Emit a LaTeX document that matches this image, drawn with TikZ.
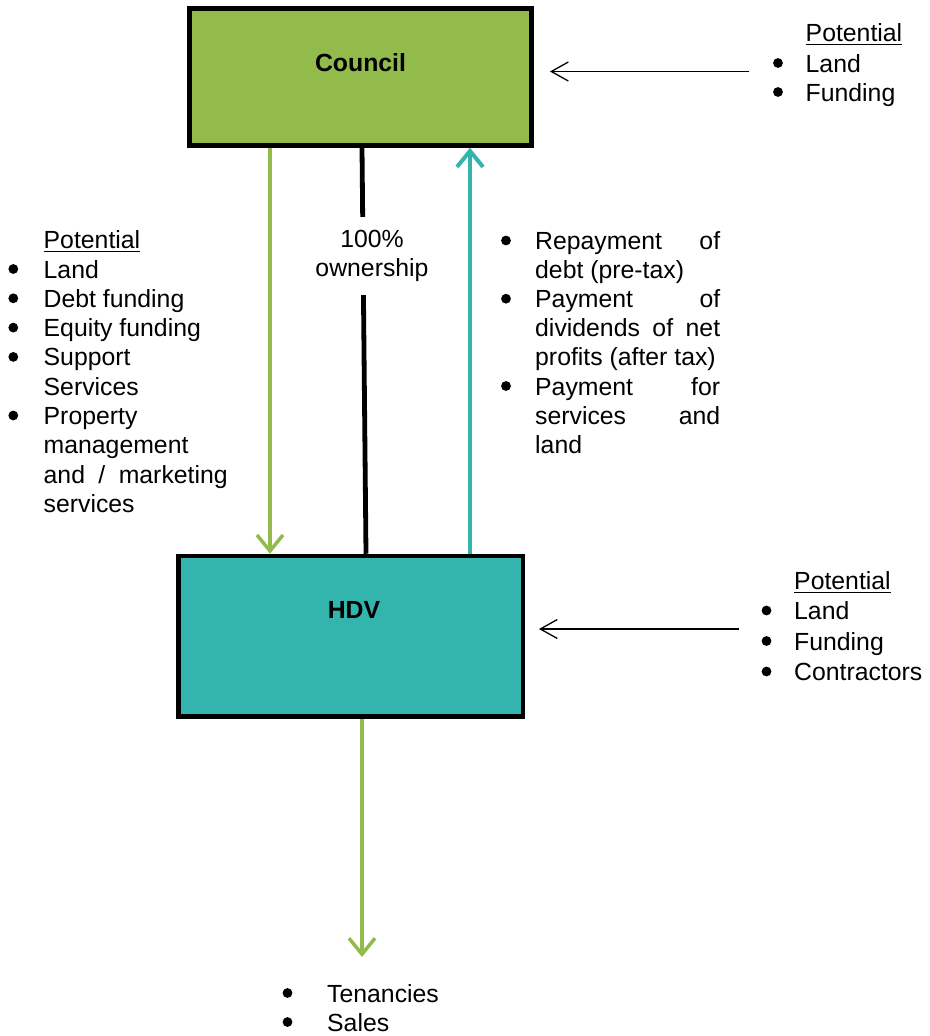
\documentclass[tikz,border=0pt]{standalone}
\usepackage{fontspec}
\setmainfont{Liberation Sans}
\usetikzlibrary{arrows.meta}
\definecolor{cgreen}{RGB}{146,187,76}
\definecolor{cteal}{RGB}{51,181,173}
\begin{document}
\begin{tikzpicture}[x=1pt,y=-1pt,
  every node/.style={font=\fontsize{24.8}{28.8}\selectfont, inner sep=0pt},
  txt/.style={anchor=base west},
  bul/.style={circle, fill=black, minimum size=9.8pt, inner sep=0pt},
  box/.style={draw=black, line width=4.5pt, rectangle, inner sep=0pt},
  boxlabel/.style={anchor=base, font=\fontsize{24.8}{28.8}\selectfont\bfseries},
  bigarrow/.style={line width=3.5pt, -{Straight Barb[length=16pt,width=26pt]}},
  thinarrow/.style={line width=1.3pt, -{Straight Barb[length=17pt,width=19pt]}},
  ownline/.style={line width=4.8pt, black},
  ul/.style={line width=1.4pt}
]
\useasboundingbox (0,0) rectangle (929,1036);

% boxes
\node[box, fill=cgreen, minimum width=342pt, minimum height=137pt] (council) at (360.5,77) {};
\node[boxlabel] (councilt) at (360.5,71) {Council};
\node[box, fill=cteal, minimum width=344.5pt, minimum height=160.5pt] (hdv) at (350.75,636.25) {};
\node[boxlabel] (hdvt) at (354,618) {HDV};

% connectors between boxes
\draw[bigarrow, cgreen] ([xshift=82.75pt]council.south west) -- ([xshift=93.75pt]hdv.north west);
\draw[ownline] ([xshift=174.75pt]council.south west) -- ([xshift=189.75pt]hdv.north west);
\node[fill=white, align=center, inner xsep=4pt, inner ysep=13pt] (own) at (372,256) {100\%\\ownership};
\draw[bigarrow, cteal, line width=4pt] ([xshift=293.75pt]hdv.north west) -- ([xshift=282.75pt]council.south west);

% output arrow
\coordinate (outtip) at (362,957);
\draw[bigarrow, cgreen] ([xshift=185.75pt]hdv.south west) -- (outtip);

% input arrows
\coordinate (ca1) at (749,71.5);
\coordinate (ca2) at (550,71.5);
\draw[thinarrow] (ca1) -- (ca2);
\coordinate (ha1) at (739,629);
\coordinate (ha2) at (539,629);
\draw[thinarrow] (ha1) -- (ha2);

% top right list
\node[txt] (trp) at (805.5,41) {Potential};
\draw[ul] ([yshift=-3.5pt]trp.base west) -- ([yshift=-3.5pt]trp.base east);
\node[bul] (trb1) at (778,63) {};
\node[txt] (tr1) at (805.5,72) {Land};
\node[bul] (trb2) at (778,92) {};
\node[txt] (tr2) at (805.5,101) {Funding};

% left list
\node[txt] (lp) at (43.5,248) {Potential};
\draw[ul] ([yshift=-3.5pt]lp.base west) -- ([yshift=-3.5pt]lp.base east);
\node[bul] (lb1) at (13.3,269) {};
\node[txt] (l1) at (43.5,278) {Land};
\node[bul] (lb2) at (13.3,298.3) {};
\node[txt] (l2) at (43.5,307.3) {Debt funding};
\node[bul] (lb3) at (13.3,327.6) {};
\node[txt] (l3) at (43.5,336.6) {Equity funding};
\node[bul] (lb4) at (13.3,356.9) {};
\node[txt] (l4) at (43.5,365.9) {Support};
\node[txt] (l5) at (43.5,395.2) {Services};
\node[bul] (lb6) at (13.3,415.5) {};
\node[txt] (l6) at (43.5,424.5) {Property};
\node[txt] (l7) at (43.5,453.8) {management};
\node[txt] (l8) at (43.5,483.1) {\makebox[184pt][s]{and / marketing}};
\node[txt] (l9) at (43.5,512.4) {services};

% middle list
\node[bul] (mb1) at (506,240.5) {};
\node[txt] (m1) at (535,249.5) {\makebox[185pt][s]{Repayment of}};
\node[txt] (m2) at (535,278.6) {debt (pre-tax)};
\node[bul] (mb3) at (506,298.7) {};
\node[txt] (m3) at (535,307.7) {\makebox[185pt][s]{Payment of}};
\node[txt] (m4) at (535,336.8) {\makebox[185pt][s]{dividends of net}};
\node[txt] (m5) at (535,365.9) {profits (after tax)};
\node[bul] (mb6) at (506,386) {};
\node[txt] (m6) at (535,395) {\makebox[185pt][s]{Payment for}};
\node[txt] (m7) at (535,424.1) {\makebox[185pt][s]{services and}};
\node[txt] (m8) at (535,453.2) {land};

% HDV right list
\node[txt] (hp) at (794,589) {Potential};
\draw[ul] ([yshift=-3.5pt]hp.base west) -- ([yshift=-3.5pt]hp.base east);
\node[bul] (hb1) at (766.5,610.5) {};
\node[txt] (h1) at (794,619.5) {Land};
\node[bul] (hb2) at (766.5,641) {};
\node[txt] (h2) at (794,650) {Funding};
\node[bul] (hb3) at (766.5,671.5) {};
\node[txt] (h3) at (794,680.5) {Contractors};

% bottom list
\node[bul] (bb1) at (287.5,993) {};
\node[txt] (b1) at (327,1002) {Tenancies};
\node[bul] (bb2) at (287.5,1022) {};
\node[txt] (b2) at (327,1031) {Sales};
\end{tikzpicture}
\end{document}
